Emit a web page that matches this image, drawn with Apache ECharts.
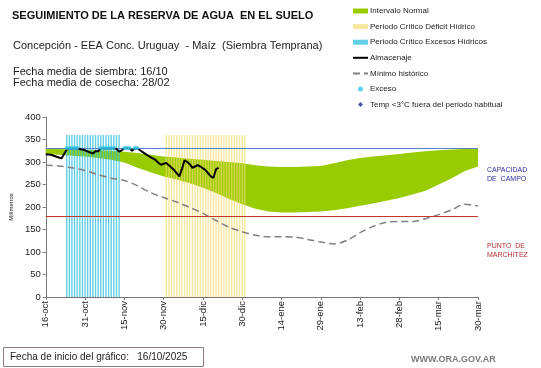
<!DOCTYPE html>
<html><head><meta charset="utf-8">
<script src="https://cdn.jsdelivr.net/npm/echarts@6/dist/echarts.min.js"></script>
<style>html,body{margin:0;padding:0;background:#fff}#c{width:541px;height:368px}</style>
</head><body><div id="c"></div>
<script>
// ---- data ----
const xTickLabels = ['16-oct','31-oct','15-nov','30-nov','15-dic','30-dic','14-ene','29-ene','13-feb','28-feb','15-mar','30-mar'];
const yTicks = [0,50,100,150,200,250,300,350,400];
const bandDays  = [0,5,10,15,20,25,30,35,40,45,50,55,60,65,70,75,80,85,90,95,100,105,110,115,120,125,130,135,140,145,150,155,160,165];
const bandUpper = [329,329,328,327,326,325,323,320,316,312,310,307,305,302,300,297,293,290,289,289,290,291,297,304,309,312,315,318,321,324,326,328,329,329];
const bandLower = [318,316,314,312,309,305,299,287,277,268,261,253,243,231,218,206,196,190,188,188,189,190,193,197,203,208,214,220,228,236,250,264,280,290];
const minHist   = [293,291,287,281,272,264,259,247,232,221,211,199,186,170,155,145,137,134,134,133,128,122,118,126,143,157,166,168,168,174,183,194,206,202];
const almDays   = [0,2,5,6,7,8,9,10,11,12,13,15,17,18,19,20,21,22,23,24,25,26,27,28,29,30,31,32,33,34,35,36,38,40,42,43,44,45,46,47,49,51,52,53,54,55,56,57,58,59,61,62,63,64,65,66];
const almValues = [317,316,310,308,318,328,330,330,330,330,329,326,321,319,324,324,330,330,330,330,330,330,329,323,326,330,331,330,325,330,330,326,318,311,304,298,294,296,298,293,282,268,285,304,300,295,287,290,293,290,282,275,268,265,284,287];
const excesoDays = [8,9,10,11,12,21,22,23,24,25,26,30,31,32,34,35];
const excesoValue = 331;
const excesoPeriodDays = [8,9,10,11,12,13,14,15,16,17,18,19,20,21,22,23,24,25,26,27,28];
const deficitPeriodDays = [46,47,48,49,50,51,52,53,54,55,56,57,58,59,60,61,62,63,64,65,66,67,68,69,70,71,72,73,74,75,76];
const periodTop = 360;
const capacidadCampo = 330;
const puntoMarchitez = 180;

const FONT = 'Liberation Sans, Arial, sans-serif';
const pairs = (xs, ys) => xs.map((x, i) => [x, ys[i]]);

const chart = echarts.init(document.getElementById('c'), null, {renderer: 'canvas'});
chart.setOption({
  animation: false,
  textStyle: {fontFamily: FONT},
  grid: {left: 33, right: 63, top: 117, bottom: 71},
  legend: {
    orient: 'vertical', left: 352, top: 6, padding: 0, itemWidth: 15, itemHeight: 5, itemGap: 5.6,
    textStyle: {fontSize: 8, color: '#222', fontFamily: FONT, lineHeight: 10, padding: [0, 0, 0, -3]},
    data: [
      {name: 'Intervalo Normal', icon: 'rect'},
      {name: 'Periodo Crítico Déficit Hídrico', icon: 'rect'},
      {name: 'Periodo Crítico Excesos Hídricos', icon: 'rect'},
      {name: 'Almacenaje', itemStyle: {opacity: 0}},
      {name: 'Mínimo histórico', itemStyle: {opacity: 0}},
      {name: 'Exceso', icon: 'circle'},
      {name: 'Temp <3°C fuera del periodo habitual', icon: 'path://M0,-1L1,0L0,1L-1,0Z'}
    ]
  },
  xAxis: {
    type: 'value', min: 0, max: 165, interval: 15,
    axisLine: {lineStyle: {color: '#777'}},
    axisTick: {show: true, length: 3, lineStyle: {color: '#777'}},
    splitLine: {show: false},
    axisLabel: {rotate: 90, fontSize: 9.5, color: '#222', margin: 4,
      formatter: v => xTickLabels[Math.round(v / 15)] || ''}
  },
  yAxis: {
    type: 'value', min: 0, max: 400, interval: 50,
    name: 'Milímetros', nameLocation: 'middle', nameGap: 27, nameRotate: 90,
    nameTextStyle: {fontSize: 6, color: '#222'},
    axisLine: {show: true, lineStyle: {color: '#777'}},
    axisTick: {show: true, length: 3, lineStyle: {color: '#777'}},
    splitLine: {show: false},
    axisLabel: {fontSize: 9.5, color: '#222', margin: 5,
      formatter: v => yTicks.includes(v) ? String(v) : ''}
  },
  series: [
    {name: 'Intervalo Normal', type: 'custom', data: [0], itemStyle: {color: '#99cc00'}, z: 2,
     renderItem: (params, api) => {
       const pts = [];
       bandDays.forEach((d, i) => pts.push(api.coord([d, bandUpper[i]])));
       for (let i = bandDays.length - 1; i >= 0; i--) pts.push(api.coord([bandDays[i], bandLower[i]]));
       return {type: 'polygon', shape: {points: pts, smooth: 0}, style: {fill: '#99cc00'}};
     },
     markLine: {silent: true, symbol: 'none', label: {show: false},
       data: [{yAxis: capacidadCampo, lineStyle: {color: '#5b7fc9', width: 1, type: 'solid'}},
              {yAxis: puntoMarchitez, lineStyle: {color: '#c0392b', width: 1, type: 'solid'}}]}},
    {name: 'Periodo Crítico Déficit Hídrico', type: 'bar', barWidth: 1.4,
     data: deficitPeriodDays.map(d => [d, periodTop]),
     itemStyle: {color: '#f3dc6e', opacity: 0.65}, z: 3},
    {name: 'Periodo Crítico Excesos Hídricos', type: 'bar', barWidth: 1.4, barGap: '-100%',
     data: excesoPeriodDays.map(d => [d, periodTop]),
     itemStyle: {color: '#2fbfdc', opacity: 0.75}, z: 3},
    {name: 'Mínimo histórico', type: 'line', data: pairs(bandDays, minHist), symbol: 'none', smooth: 0.3,
     lineStyle: {color: '#808080', width: 1.5, type: [7, 4]}, itemStyle: {color: '#808080'}, z: 4},
    {name: 'Almacenaje', type: 'line', data: pairs(almDays, almValues), symbol: 'none',
     lineStyle: {color: '#000', width: 2}, itemStyle: {color: '#000'}, z: 5},
    {name: 'Exceso', type: 'scatter', data: excesoDays.map(d => [d, excesoValue]),
     symbol: 'circle', symbolSize: 4, itemStyle: {color: '#33c8ee'}, z: 6},
    {name: 'Temp <3°C fuera del periodo habitual', type: 'scatter', data: [],
     symbolSize: 5, itemStyle: {color: '#1f2a9c'}, z: 6}
  ],
  graphic: [
    {type: 'text', left: 12, top: 10, style: {text: 'SEGUIMIENTO DE LA RESERVA DE AGUA  EN EL SUELO', font: 'bold 11px ' + FONT, fill: '#111'}},
    {type: 'text', left: 13, top: 40, style: {text: 'Concepción - EEA Conc. Uruguay  - Maíz  (Siembra Temprana)', font: '11px ' + FONT, fill: '#222'}},
    {type: 'text', left: 13, top: 66, style: {text: 'Fecha media de siembra: 16/10', font: '11px ' + FONT, fill: '#222'}},
    {type: 'text', left: 13, top: 77, style: {text: 'Fecha media de cosecha: 28/02', font: '11px ' + FONT, fill: '#222'}},
    {type: 'text', left: 487, top: 166, style: {text: 'CAPACIDAD\nDE  CAMPO', font: '7px ' + FONT, fill: '#2e2e9e', lineHeight: 9}},
    {type: 'text', left: 487, top: 242, style: {text: 'PUNTO  DE\nMARCHITEZ', font: '7px ' + FONT, fill: '#b03030', lineHeight: 9}},
    {type: 'rect', shape: {x: 3.5, y: 347.5, width: 200, height: 19}, style: {fill: '#fff', stroke: '#8b7b7b', lineWidth: 1}},
    {type: 'text', left: 10, top: 352, style: {text: 'Fecha de inicio del gráfico:   16/10/2025', font: '10px ' + FONT, fill: '#222'}},
    {type: 'text', left: 411, top: 355, style: {text: 'WWW.ORA.GOV.AR', font: 'bold 9px ' + FONT, fill: '#7a7a7a'}}
  ]
});
</script></body></html>
